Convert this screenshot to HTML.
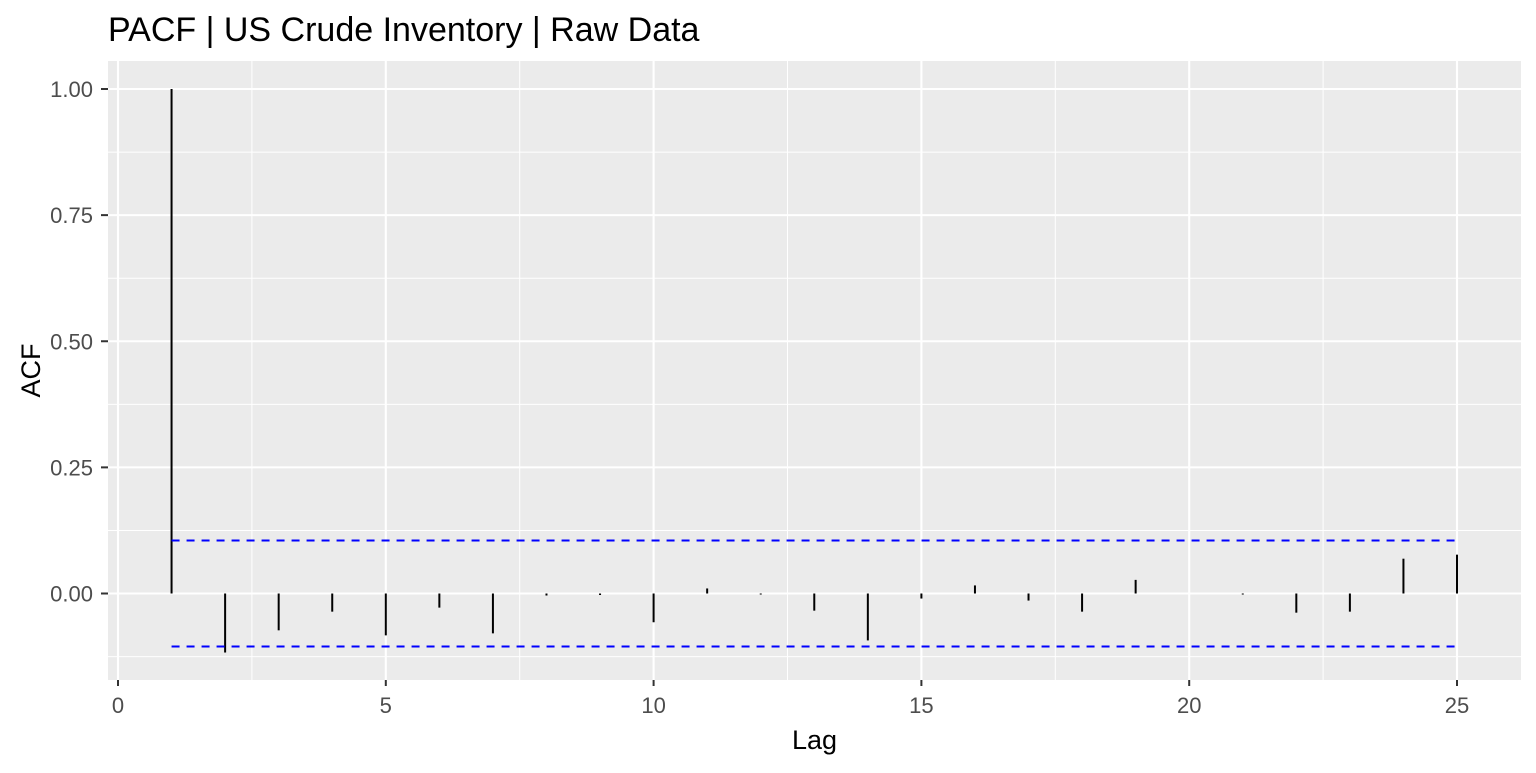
<!DOCTYPE html>
<html><head><meta charset="utf-8"><style>
body{margin:0;background:#fff;width:1536px;height:768px;overflow:hidden}
text{font-family:"Liberation Sans",Arial,sans-serif}
</style></head><body>
<svg id="chart" width="1536" height="768" xmlns="http://www.w3.org/2000/svg"></svg>
<script>
const lags=[1,2,3,4,5,6,7,8,9,10,11,12,13,14,15,16,17,18,19,20,21,22,23,24,25];
const pacf=[1.0,-0.117,-0.073,-0.036,-0.083,-0.028,-0.079,-0.004,-0.003,-0.057,0.01,-0.002,-0.034,-0.093,-0.01,0.016,-0.014,-0.036,0.027,0.0,-0.002,-0.038,-0.036,0.069,0.077];
const ciBound=[0.105];
const xTicks=[0,5,10,15,20,25];
const yTicks=[0,0.25,0.5,0.75,1.0];
const yLabels=["0.00","0.25","0.50","0.75","1.00"];

const svg=document.getElementById('chart');
const NS="http://www.w3.org/2000/svg";
const L=108,R=1521,T=61,B=680;
const xs=v=>118+v*(1457-118)/25;
const ys=v=>593.5-v*(593.5-89)/1;
function mk(tag,attrs,parent){const e=document.createElementNS(NS,tag);for(const k in attrs)e.setAttribute(k,attrs[k]);(parent||svg).appendChild(e);return e;}

const title=mk('text',{x:108,y:41,'font-size':'34',fill:'#000'});
title.textContent='PACF | US Crude Inventory | Raw Data';



const panel=mk('rect',{x:L,y:T,width:R-L,height:B-T,fill:'#ebebeb'});



for(let i=0;i<xTicks.length-1;i++){const v=(xTicks[i]+xTicks[i+1])/2;const g=mk('line',{x1:xs(v),x2:xs(v),y1:T,y2:B,stroke:'#fff','stroke-width':1});

}
const yMinor=[-0.125,0.125,0.375,0.625,0.875];
yMinor.forEach(v=>{const g=mk('line',{x1:L,x2:R,y1:ys(v),y2:ys(v),stroke:'#fff','stroke-width':1});

});
xTicks.forEach(v=>{const g=mk('line',{x1:xs(v),x2:xs(v),y1:T,y2:B,stroke:'#fff','stroke-width':2.1});


const t=mk('line',{x1:xs(v),x2:xs(v),y1:B,y2:B+6,stroke:'#333','stroke-width':2});


const lb=mk('text',{x:xs(v),y:B+33,'font-size':'22','text-anchor':'middle',fill:'#4d4d4d'});lb.textContent=v;

});
yTicks.forEach((v,i)=>{const g=mk('line',{x1:L,x2:R,y1:ys(v),y2:ys(v),stroke:'#fff','stroke-width':2.1});


const t=mk('line',{x1:L-7,x2:L,y1:ys(v),y2:ys(v),stroke:'#333','stroke-width':2});


const lb=mk('text',{x:L-15,y:ys(v)+8,'font-size':'22','text-anchor':'end',fill:'#4d4d4d'});lb.textContent=yLabels[i];

});

lags.forEach((l,i)=>{const b=mk('line',{x1:xs(l),x2:xs(l),y1:ys(0),y2:ys(pacf[i]),stroke:'#000','stroke-width':2});

});
[ciBound[0],-ciBound[0]].forEach((v,i)=>{const c=mk('line',{x1:xs(lags[0]),x2:xs(lags[lags.length-1]),y1:ys(v),y2:ys(v),stroke:'#0000ff','stroke-width':2,'stroke-dasharray':'8,7'});

});

const xt=mk('text',{x:(L+R)/2,y:749,'font-size':'27','text-anchor':'middle',fill:'#000'});xt.textContent='Lag';


const yt=mk('text',{x:0,y:0,'font-size':'27','text-anchor':'middle',fill:'#000',transform:'translate(40,'+((T+B)/2)+') rotate(-90)'});yt.textContent='ACF';


</script>
</body></html>
